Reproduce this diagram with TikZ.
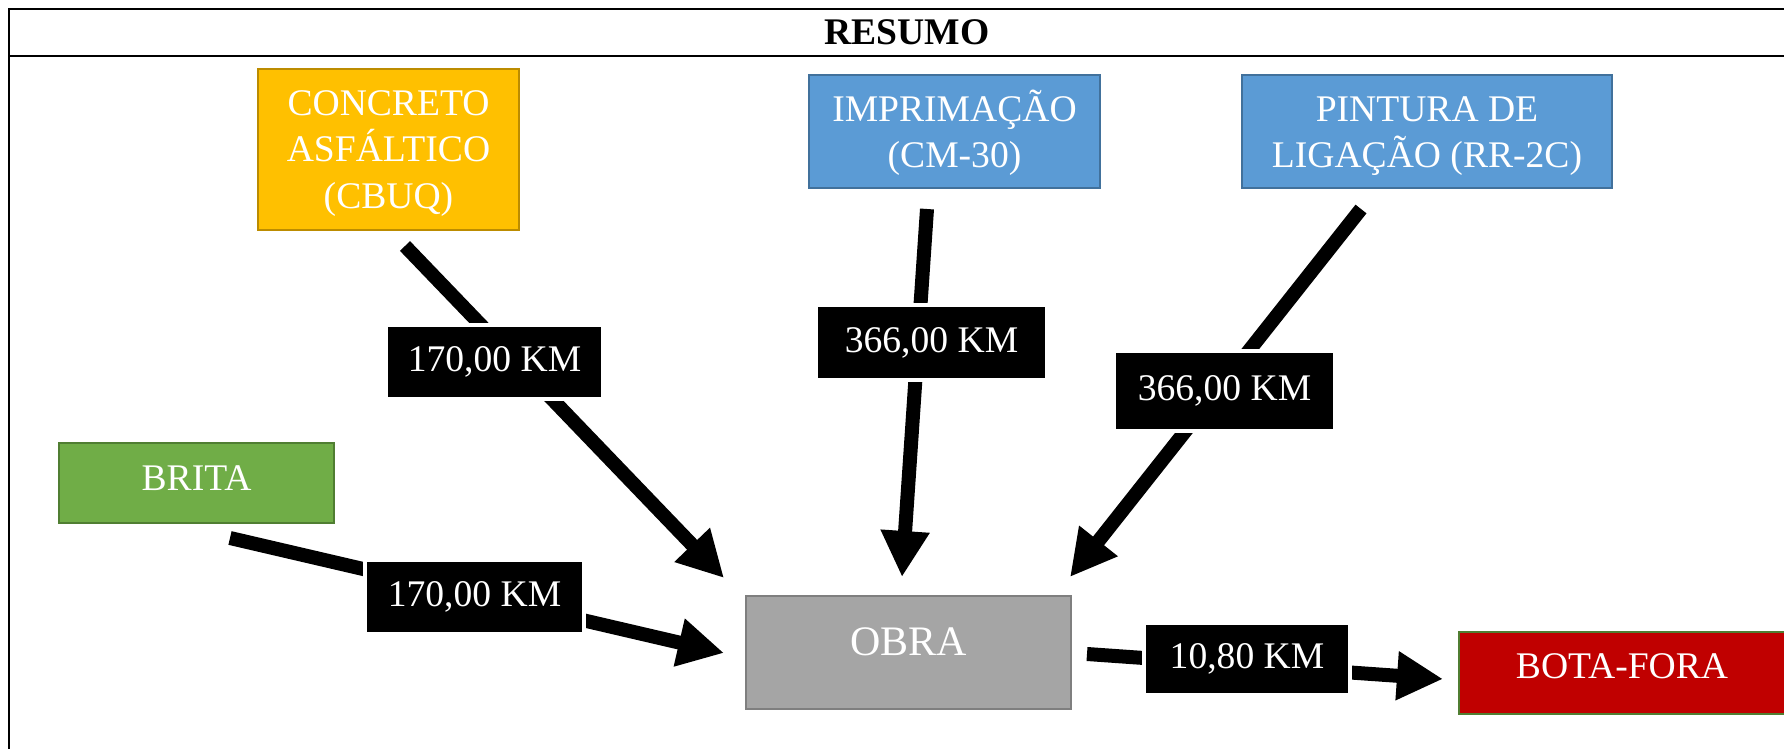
\documentclass[tikz,border=0pt]{standalone}
\usepackage{fontspec}
\setmainfont{Liberation Serif}
\usetikzlibrary{arrows.meta}
\definecolor{cgold}{HTML}{FFC000}
\definecolor{cgoldB}{HTML}{BC8C00}
\definecolor{cblue}{HTML}{5B9BD5}
\definecolor{cblueB}{HTML}{41719C}
\definecolor{cgreen}{HTML}{70AD47}
\definecolor{cgreenB}{HTML}{507E32}
\definecolor{cgray}{HTML}{A5A5A5}
\definecolor{cgrayB}{HTML}{7F7F7F}
\definecolor{cred}{HTML}{C00000}
\def\px{0.5pt}
\tikzset{
  x=0.5pt, y=-0.5pt,
  txt/.style={font=\fontsize{18.8}{23.2}\selectfont, text=white, align=center},
  boxnode/.style={txt, draw, line width=1.25pt, inner sep=0pt},
  lbl/.style={txt, fill=black, draw=white, line width=2pt, inner sep=0pt},
  conn/.style={line width=7pt, -{Triangle[width=23pt,length=23pt]}},
}
\begin{document}
\begin{tikzpicture}
\useasboundingbox (0,0) rectangle (1784,749);
\clip (0,0) rectangle (1784,749);
% frame
\draw[line width=1.3pt] (9,760) -- (9,9) -- (1820,9);
\draw[line width=1.3pt] (9,56) -- (1820,56);
\node[font=\fontsize{18.8}{23}\selectfont\bfseries] (title) at (907,32) {RESUMO};
% boxes
\node[boxnode, fill=cgold, draw=cgoldB, minimum width=261*\px, minimum height=161*\px, text height=60pt, text depth=1.5pt] (cbuq) at (388.5,149.5) {CONCRETO\\ASFÁLTICO\\(CBUQ)};
\node[boxnode, fill=cblue, draw=cblueB, minimum width=291*\px, minimum height=113*\px, text height=38pt, text depth=1.5pt] (impr) at (954.5,131.5) {IMPRIMAÇÃO\\(CM-30)};
\node[boxnode, fill=cblue, draw=cblueB, minimum width=370*\px, minimum height=113*\px, text height=38pt, text depth=1.5pt] (pint) at (1427,131.5) {PINTURA DE\\LIGAÇÃO (RR-2C)};
\node[boxnode, fill=cgreen, draw=cgreenB, minimum width=275*\px, minimum height=80*\px, text height=14pt, text depth=7pt] (brita) at (196.5,483) {BRITA};
\node[boxnode, fill=cgray, draw=cgrayB, minimum width=325*\px, minimum height=113*\px, text height=15pt, text depth=12.5pt, font=\fontsize{21}{25}\selectfont] (obra) at (908.5,652.5) {OBRA};
\node[boxnode, fill=cred, draw=cgreenB, minimum width=326*\px, minimum height=82*\px, text height=14pt, text depth=9pt] (bota) at (1622,673) {BOTA-FORA};
% connector end points
\coordinate (s1) at (405,246);   \coordinate (e1) at (724,578);
\coordinate (s2) at (927,209);   \coordinate (e2) at (902,577);
\coordinate (s3) at (1361,209);  \coordinate (e3) at (1070,577);
\coordinate (s4) at (230,538);   \coordinate (e4) at (724,653);
\coordinate (s5) at (1087,654);  \coordinate (e5) at (1443,679);
\draw[conn] (s1) -- (e1);
\draw[conn] (s2) -- (e2);
\draw[conn] (s3) -- (e3);
\draw[conn] (s4) -- (e4);
\draw[conn] (s5) -- (e5);
% labels
\node[lbl, minimum width=217*\px, minimum height=74*\px] (l1) at (494.5,362) {170,00 KM};
\node[lbl, minimum width=231*\px, minimum height=75*\px] (l2) at (931.5,342.5) {366,00 KM};
\node[lbl, minimum width=221*\px, minimum height=80*\px] (l3) at (1224.5,391) {366,00 KM};
\node[lbl, minimum width=219*\px, minimum height=74*\px] (l4) at (474.5,597) {170,00 KM};
\node[lbl, minimum width=206*\px, minimum height=72*\px] (l5) at (1247,659) {10,80 KM};
\end{tikzpicture}
\end{document}
